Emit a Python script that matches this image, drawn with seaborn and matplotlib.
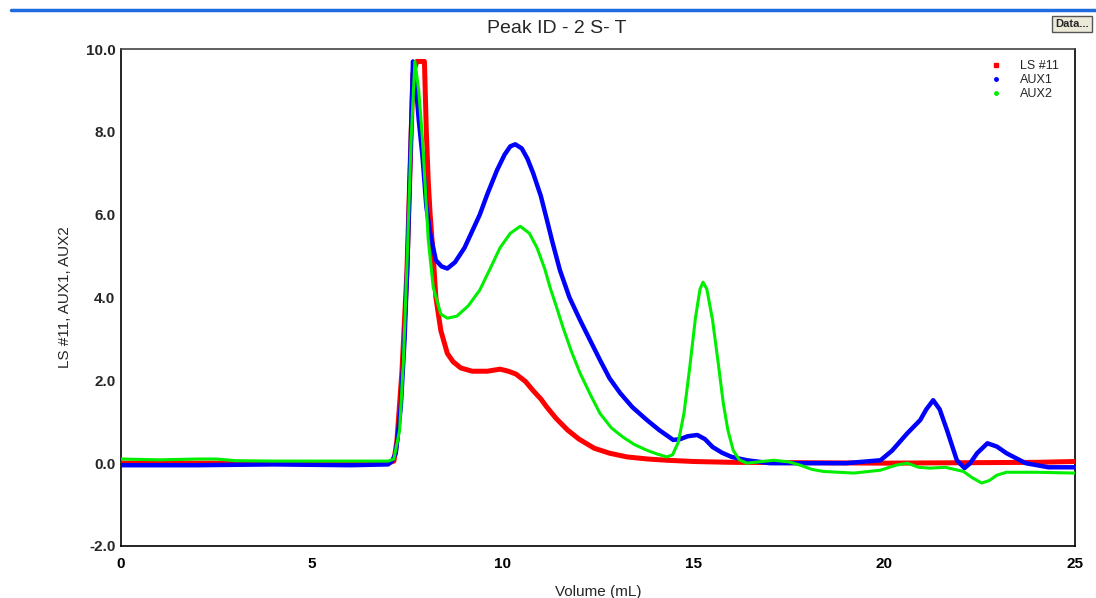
import matplotlib
matplotlib.use("Agg")
import matplotlib.pyplot as plt
from matplotlib.lines import Line2D
from matplotlib.ticker import MultipleLocator, FormatStrFormatter
import seaborn as sns
import pandas as pd

# ---- data ----
ls_x = [0, 2, 4, 6, 7.0, 7.15, 7.23, 7.36, 7.49, 7.57, 7.65, 7.75, 7.95, 8.0, 8.05, 8.1, 8.18,
        8.25, 8.38, 8.55, 8.7, 8.9, 9.2, 9.6, 9.93, 10.15, 10.35, 10.6, 10.8, 11.0, 11.16,
        11.4, 11.7, 12.0, 12.4, 12.8, 13.26, 13.8, 14.3, 15.0, 16.0, 18.0, 20.0, 22.0, 24.0, 25.0]
ls_y = [0.0, 0.0, 0.0, 0.0, 0.0, 0.05, 0.55, 2.2, 4.6, 7.0, 9.4, 9.7, 9.7, 8.0, 6.8, 6.0, 5.0,
        4.0, 3.2, 2.65, 2.45, 2.3, 2.22, 2.22, 2.27, 2.22, 2.15, 1.97, 1.75, 1.55, 1.35,
        1.08, 0.8, 0.58, 0.36, 0.24, 0.15, 0.1, 0.07, 0.04, 0.02, 0.01, 0.0, 0.01, 0.02, 0.04]

aux1_x = [0, 2, 4, 6, 7.0, 7.1, 7.2, 7.33, 7.43, 7.51, 7.57, 7.65, 7.72, 7.8, 7.9, 8.0, 8.1,
          8.25, 8.4, 8.55, 8.75, 9.0, 9.4, 9.6, 9.85, 10.05, 10.2, 10.33, 10.5, 10.65, 10.8,
          11.0, 11.16, 11.3, 11.5, 11.75, 12.03, 12.3, 12.55, 12.8, 13.08, 13.4, 13.78, 14.1,
          14.47, 14.65, 14.85, 15.1, 15.3, 15.5, 15.75, 16.0, 16.4, 17.0, 18.0, 19.0, 19.9,
          20.2, 20.6, 20.94, 21.1, 21.28, 21.45, 21.64, 21.8, 21.9, 22.1, 22.25, 22.43, 22.7,
          22.95, 23.2, 23.7, 24.3, 25.0]
aux1_y = [-0.05, -0.05, -0.03, -0.05, -0.03, 0.05, 0.24, 1.35, 3.0, 5.0, 7.0, 9.7, 9.2, 8.3,
          7.4, 6.2, 5.55, 4.9, 4.75, 4.7, 4.85, 5.2, 6.0, 6.5, 7.07, 7.45, 7.65, 7.7, 7.6, 7.35,
          7.0, 6.45, 5.87, 5.35, 4.66, 4.0, 3.45, 2.95, 2.49, 2.05, 1.69, 1.35, 1.04, 0.8,
          0.56, 0.58, 0.65, 0.68, 0.58, 0.39, 0.25, 0.15, 0.07, 0.0, 0.0, 0.0, 0.07,
          0.3, 0.72, 1.04, 1.3, 1.52, 1.3, 0.8, 0.35, 0.07, -0.12, 0.0, 0.24, 0.48,
          0.4, 0.24, 0.0, -0.1, -0.1]

aux2_x = [0, 1, 2, 2.5, 3, 4, 6, 7.0, 7.15, 7.3, 7.4, 7.5, 7.6, 7.7, 7.8, 7.9, 7.97, 8.05,
          8.18, 8.38, 8.55, 8.8, 9.1, 9.4, 9.7, 9.93, 10.2, 10.46, 10.7, 10.9, 11.1, 11.24,
          11.4, 11.58, 11.8, 12.03, 12.3, 12.55, 12.85, 13.15, 13.45, 13.78, 14.05, 14.3,
          14.45, 14.6, 14.75, 14.9, 15.05, 15.17, 15.25, 15.35, 15.5, 15.65, 15.78, 15.9,
          16.04, 16.2, 16.4, 17.1, 17.5, 17.8, 18.1, 18.4, 19.2, 19.9, 20.3, 20.6, 20.9,
          21.2, 21.6, 22.07, 22.3, 22.55, 22.75, 22.95, 23.2, 24.0, 25.0]
aux2_y = [0.1, 0.08, 0.1, 0.1, 0.06, 0.05, 0.05, 0.05, 0.1, 0.8, 2.5, 5.0, 7.8, 9.7, 9.0, 7.8,
          6.7, 5.4, 4.25, 3.6, 3.5, 3.55, 3.8, 4.18, 4.75, 5.2, 5.55, 5.72, 5.55, 5.2, 4.7,
          4.25, 3.8, 3.28, 2.7, 2.17, 1.65, 1.2, 0.85, 0.63, 0.45, 0.31, 0.22, 0.15,
          0.2, 0.5, 1.2, 2.3, 3.5, 4.2, 4.37, 4.2, 3.45, 2.4, 1.45, 0.8,
          0.31, 0.08, 0.0, 0.07, 0.03, -0.05, -0.15, -0.2, -0.24, -0.17, -0.05, 0.0, -0.1,
          -0.12, -0.1, -0.2, -0.35, -0.48, -0.42, -0.29, -0.22, -0.22, -0.24]

series_names = ["LS #11", "AUX1", "AUX2"]
series_colors = ["#ff0000", "#0000ff", "#00ee00"]
x_ticks = [0, 5, 10, 15, 20, 25]
y_ticks = [-2.0, 0.0, 2.0, 4.0, 6.0, 8.0, 10.0]

sns.set_style("white")
plt.rcParams["font.family"] = ["Liberation Sans", "DejaVu Sans"]

fig = plt.figure(figsize=(10.96, 5.98), dpi=100)
ax = fig.add_axes([0.1104, 0.087, 0.981 - 0.1104, 0.918 - 0.087])

frames = [
    pd.DataFrame({"x": ls_x, "y": ls_y}),
    pd.DataFrame({"x": aux1_x, "y": aux1_y}),
    pd.DataFrame({"x": aux2_x, "y": aux2_y}),
]
widths = [3.6, 3.2, 2.2]
for df, c, w in zip(frames, series_colors, widths):
    sns.lineplot(data=df, x="x", y="y", ax=ax, color=c, lw=w, sort=False,
                 estimator=None, zorder=3)

ax.set_xlim(0, 25)
ax.set_ylim(-2, 10)
ax.set_xticks(x_ticks)
ax.set_yticks(y_ticks)
ax.xaxis.set_minor_locator(MultipleLocator(1))
ax.yaxis.set_minor_locator(MultipleLocator(0.5))
ax.yaxis.set_major_formatter(FormatStrFormatter("%.1f"))
ax.tick_params(axis="x", which="major", direction="in", length=16, width=1,
               labelsize=11, pad=8, colors="black")
ax.tick_params(axis="x", which="minor", direction="in", length=6, width=1)
ax.tick_params(axis="y", which="major", direction="in", length=8, width=1,
               labelsize=11, pad=4)
ax.tick_params(axis="y", which="minor", direction="in", length=6, width=1)
for lab in ax.get_xticklabels() + ax.get_yticklabels():
    lab.set_fontweight("bold")
for s in ax.spines.values():
    s.set_color("black")
    s.set_linewidth(1.2)
ax.spines["top"].set_color("#444444")

ax.set_xlabel("Volume (mL)", fontsize=11, labelpad=10)
ax.set_ylabel("LS #11, AUX1, AUX2", fontsize=11, labelpad=10)
fig.text(0.508, 0.952, "Peak ID - 2 S- T", ha="center", va="center", fontsize=14)

handles = [
    Line2D([], [], ls="none", marker="s", ms=3, color=series_colors[0]),
    Line2D([], [], ls="none", marker="o", ms=2.5, color=series_colors[1]),
    Line2D([], [], ls="none", marker="o", ms=2.5, color=series_colors[2]),
]
ax.legend(handles, series_names, loc="upper right", bbox_to_anchor=(0.995, 1.0),
          frameon=False, fontsize=9, handletextpad=1.2, labelspacing=0.15,
          handlelength=1.5)

# window decoration
fig.add_artist(Line2D([0.01, 1.0], [0.983, 0.983],
                      transform=fig.transFigure, color="#1e6be0", lw=2.5))
fig.text(0.978, 0.96, "Data...", ha="center", va="center", fontsize=8, fontweight="bold",
         bbox=dict(boxstyle="square,pad=0.25", fc="#ece9d8", ec="#555555", lw=1))

fig.savefig("out.png", dpi=100)
